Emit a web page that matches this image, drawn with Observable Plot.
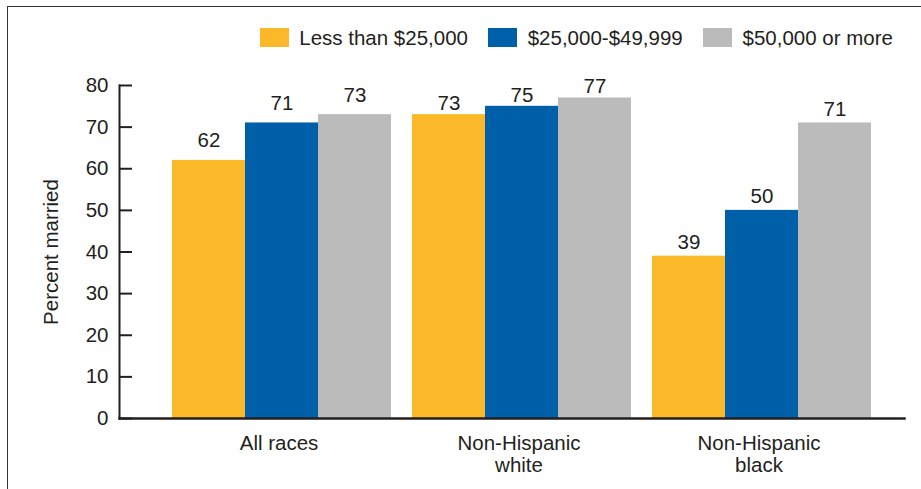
<!DOCTYPE html>
<html><head><meta charset="utf-8">
<script src="https://cdn.jsdelivr.net/npm/d3@7"></script>
<script src="https://cdn.jsdelivr.net/npm/@observablehq/plot@0.6"></script>
<style>
html,body{margin:0;padding:0;background:#fff;}
body{width:921px;height:489px;position:relative;overflow:hidden;font-family:"Liberation Sans",Arial,sans-serif;}
#box{position:absolute;left:7px;top:6px;width:1000px;height:1000px;border-top:1.5px solid #333;border-left:1.5px solid #333;}
#chart{position:absolute;left:0;top:0;}
#legend{position:absolute;left:260px;top:21px;}
</style></head><body>
<div id="box"></div><div id="chart"></div><div id="legend"></div>
<script>
const groups = ["All races", "Non-Hispanic\nwhite", "Non-Hispanic\nblack"];
const incomes = ["Less than $25,000", "$25,000-$49,999", "$50,000 or more"];
const lessThan25k = [62, 73, 39];
const from25kTo50k = [71, 75, 50];
const over50k = [73, 77, 71];
const yTicks = [0, 10, 20, 30, 40, 50, 60, 70, 80];
const yLabel = "Percent married";
const colors = ["#FBB829", "#005FA9", "#BBBBBB"];

const series = [lessThan25k, from25kTo50k, over50k];
const data = groups.flatMap((g, gi) => incomes.map((inc, si) => ({group: g, income: inc, value: series[si][gi]})));
const ink = "#231F20";
const fs = 20.5;
// vertical gap between each group's value labels and its bars (style)
const labelGaps = [13, 4.5, 7];

const chart = Plot.plot({
  width: 921, height: 489,
  marginTop: 85, marginBottom: 71, marginLeft: 118, marginRight: 16,
  style: {fontFamily: "Liberation Sans, Arial, sans-serif", fontSize: fs + "px", color: ink, background: "transparent"},
  fx: {domain: groups, paddingInner: 0.086, paddingOuter: 0.178, align: 0.62, label: null},
  x: {domain: incomes, padding: 0, axis: null},
  y: {domain: [0, 80]},
  color: {domain: incomes, range: colors},
  marks: [
    Plot.barY(data, {fx: "group", x: "income", y: "value", fill: "income"}),
    ...groups.map((g, gi) => Plot.text(data.filter(d => d.group === g), {fx: "group", x: "income", y: "value", text: d => String(d.value), lineAnchor: "bottom", dy: -labelGaps[gi], fontSize: fs, fill: ink})),
    Plot.axisY({ticks: yTicks, tickSize: -13, tickPadding: 24, dx: -53, strokeWidth: 2, stroke: ink, fill: ink, fontSize: fs, label: null}),
    Plot.frame({facet: "super", anchor: "left", insetLeft: -53, stroke: ink, strokeWidth: 2}),
    Plot.frame({facet: "super", anchor: "bottom", insetLeft: -53, insetRight: -33, stroke: ink, strokeWidth: 2.5}),
    Plot.axisFx({anchor: "bottom", tickSize: 0, tickPadding: 15, fontSize: fs, lineHeight: 1.1, dx: -3, label: null, fill: ink}),
    Plot.text([yLabel], {facet: "super", frameAnchor: "left", textAnchor: "middle", text: d => d, dx: -121, rotate: -90, fontSize: fs, fill: ink})
  ]
});
document.getElementById("chart").appendChild(chart);

const leg = chart.legend("color", {swatchWidth: 29, swatchHeight: 19});
leg.style.fontSize = fs + "px";
leg.style.fontFamily = "Liberation Sans, Arial, sans-serif";
leg.style.color = ink;
leg.style.margin = "0";
document.getElementById("legend").appendChild(leg);
</script>
</body></html>
